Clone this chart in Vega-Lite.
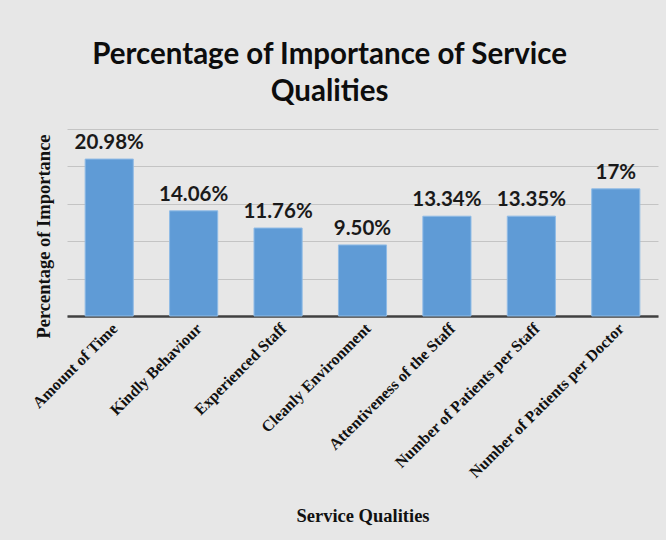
{
  "$schema": "https://vega.github.io/schema/vega-lite/v6.json",
  "width": 591,
  "height": 187,
  "padding": {"left": 29, "top": 39, "right": 11, "bottom": 24},
  "background": "#e7e7e7",
  "title": {
    "text": ["Percentage of Importance of Service", "Qualities"],
    "font": "Lato",
    "fontSize": 29.5,
    "fontWeight": "bold",
    "color": "#0d0d0d",
    "anchor": "middle",
    "frame": "bounds",
    "dx": -14,
    "lineHeight": 37,
    "offset": 22
  },
  "data": {
    "values": [
      {"quality": "Amount of Time", "pct": 20.98, "label": "20.98%"},
      {"quality": "Kindly Behaviour", "pct": 14.06, "label": "14.06%"},
      {"quality": "Experienced Staff", "pct": 11.76, "label": "11.76%"},
      {"quality": "Cleanly Environment", "pct": 9.5, "label": "9.50%"},
      {"quality": "Attentiveness of the Staff", "pct": 13.34, "label": "13.34%"},
      {"quality": "Number of Patients per Staff", "pct": 13.35, "label": "13.35%"},
      {"quality": "Number of Patients per Doctor", "pct": 17, "label": "17%"}
    ]
  },
  "encoding": {
    "x": {
      "field": "quality",
      "type": "nominal",
      "sort": null,
      "scale": {"paddingInner": 0.43, "paddingOuter": 0.215},
      "axis": {
        "title": "Service Qualities",
        "titleFont": "Liberation Serif",
        "titleFontSize": 18.5,
        "titleFontWeight": "bold",
        "titleColor": "#111111",
        "titlePadding": 26,
        "labelFont": "Liberation Serif",
        "labelFontSize": 16,
        "labelFontWeight": "bold",
        "labelColor": "#111111",
        "labelAngle": -45,
        "labelAlign": "right",
        "labelBaseline": "top",
        "labelPadding": 4,
        "labelLimit": 300,
        "ticks": false,
        "domainColor": "#404040",
        "domainWidth": 2.5
      }
    },
    "y": {
      "field": "pct",
      "type": "quantitative",
      "scale": {"domain": [0, 25]},
      "axis": {
        "title": "Percentage of Importance",
        "titleFont": "Liberation Serif",
        "titleFontSize": 18.5,
        "titleFontWeight": "bold",
        "titleColor": "#111111",
        "titlePadding": 14,
        "titleY": 107,
        "values": [0, 5, 10, 15, 20, 25],
        "labels": false,
        "ticks": false,
        "domain": false,
        "gridColor": "#c4c4c4",
        "gridWidth": 1
      }
    }
  },
  "layer": [
    {
      "mark": {"type": "bar", "color": "#5f9bd6", "stroke": "#8fbbe6", "strokeWidth": 1}
    },
    {
      "mark": {"type": "text", "font": "Lato", "fontSize": 20.5, "fontWeight": "bold", "color": "#1a1a1a", "baseline": "bottom", "dy": -6},
      "encoding": {"text": {"field": "label"}}
    }
  ],
  "config": {"view": {"stroke": null}}
}
